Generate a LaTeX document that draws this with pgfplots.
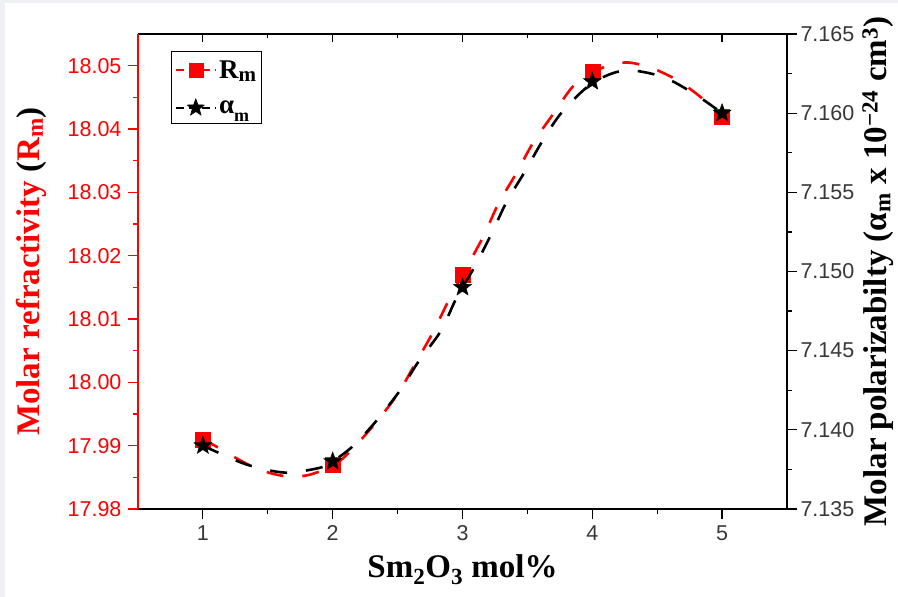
\documentclass[border=0pt]{standalone}
\usepackage{fontspec}
\setmainfont{Liberation Sans}
\newfontfamily\tnr{Liberation Serif}
\usepackage{pgfplots}
\pgfplotsset{compat=1.18}
\definecolor{tickgray}{HTML}{383838}
\definecolor{bggray}{HTML}{EEF0F3}

\pgfdeclareplotmark{fstar}{%
 \pgfpathmoveto{\pgfpointpolar{90}{\pgfplotmarksize}}%
 \pgfpathlineto{\pgfpointpolar{126}{0.42\pgfplotmarksize}}%
 \pgfpathlineto{\pgfpointpolar{162}{\pgfplotmarksize}}%
 \pgfpathlineto{\pgfpointpolar{198}{0.42\pgfplotmarksize}}%
 \pgfpathlineto{\pgfpointpolar{234}{\pgfplotmarksize}}%
 \pgfpathlineto{\pgfpointpolar{270}{0.42\pgfplotmarksize}}%
 \pgfpathlineto{\pgfpointpolar{306}{\pgfplotmarksize}}%
 \pgfpathlineto{\pgfpointpolar{342}{0.42\pgfplotmarksize}}%
 \pgfpathlineto{\pgfpointpolar{18}{\pgfplotmarksize}}%
 \pgfpathlineto{\pgfpointpolar{54}{0.42\pgfplotmarksize}}%
 \pgfpathclose
 \pgfusepathqfillstroke
}

\pgfplotsset{
  common/.style={
    scale only axis, width=649pt, height=475pt,
    xmin=0.5, xmax=5.5,
    tick align=outside,
    major tick length=10pt, minor tick length=5pt,
    /pgf/number format/assume math mode=true,
    ticklabel style={font=\fontsize{21.5}{25}\selectfont},
  }
}

\begin{document}
\begin{tikzpicture}[x=1pt,y=1pt]
\fill[bggray] (-138,-88) rectangle (760,509);
\fill[white] (-133,-88) rectangle (760,506);
\path[use as bounding box] (-138,-88) rectangle (760,509);

% top ticks
\begin{axis}[common,
  ymin=0, ymax=1,
  axis x line*=top, axis y line=none,
  xtick={1,2,3,4,5}, minor x tick num=1,
  xtick pos=right, ytick=\empty,
  tick align=inside,
  major tick length=8pt, minor tick length=4pt,
  xticklabels={},
  x axis line style={black, line width=1.2pt, -},
  xtick style={black, line width=1.2pt},
]
\end{axis}

% left axis: Rm
\begin{axis}[common,
  ymin=17.98, ymax=18.055,
  axis x line*=bottom, axis y line*=left,
  xtick pos=left, ytick pos=left,
  xtick={1,2,3,4,5}, minor x tick num=1,
  ytick={17.98,17.99,18.00,18.01,18.02,18.03,18.04,18.05}, minor y tick num=1,
  x axis line style={black, line width=1.2pt, -},
  y axis line style={red, line width=1.2pt, -},
  xtick style={black, line width=1.2pt},
  ytick style={red, line width=1.2pt},
  xticklabel style={tickgray, yshift=-3pt},
  yticklabel style={red, xshift=-3pt, /pgf/number format/fixed, /pgf/number format/fixed zerofill, /pgf/number format/precision=2},
  xlabel={\tnr\bfseries Sm\textsubscript{2}O\textsubscript{3} mol\%},
  xlabel style={at={(axis description cs:0.5,-0.128)}, anchor=center, font=\fontsize{33}{38}\selectfont},
  ylabel={\tnr\bfseries\color{red}Molar refractivity {\color{black}(}R\textsubscript{m}{\color{black})}},
  ylabel style={at={(axis description cs:-0.1649,0.5)}, anchor=center, font=\fontsize{33}{38}\selectfont},
  legend style={at={(axis description cs:0.051,0.964)}, anchor=north west, draw=black, line width=0.9pt,
    font=\tnr\bfseries\fontsize{27}{29}\selectfont, row sep=17pt, inner xsep=3pt, inner ysep=7pt, cells={anchor=west}},
  legend image code/.code={\draw[#1, mark repeat=2, mark phase=2] plot coordinates {(0pt,0pt) (20pt,0pt) (40pt,0pt)};},
]
\addlegendimage{red, line width=2.5pt, dash pattern=on 8pt off 5pt, mark=square*, mark size=7pt, mark options={solid, line width=0.5pt}}
\addlegendentry{R\raisebox{-3pt}{\fontsize{21}{21}\selectfont m}}
\addlegendimage{black, line width=2.5pt, dash pattern=on 8pt off 5pt, mark=fstar, mark size=9pt, mark options={solid, line width=0.5pt}}
\addlegendentry{α\raisebox{-8pt}{\fontsize{18}{18}\selectfont m}}

\addplot[red, line width=2.6pt, dash pattern=on 17pt off 19pt, smooth, forget plot] coordinates {
 (1.00,17.9910) (1.10,17.9899) (1.26,17.9880) (1.40,17.9865) (1.55,17.9855)
 (1.68,17.9851) (1.82,17.9854) (2.00,17.9868) (2.13,17.9890) (2.335,17.9937)
 (2.505,17.9983) (2.634,18.0029) (2.77,18.0078) (2.89,18.0128) (3.00,18.0170)
 (3.16,18.0230) (3.274,18.0281) (3.42,18.0332) (3.543,18.0378) (3.70,18.0424)
 (3.85,18.0467) (4.00,18.0489) (4.15,18.0502) (4.28,18.0505) (4.42,18.0499)
 (4.51,18.0492) (4.68,18.0474) (4.88,18.0443) (5.00,18.0420)
};
\addplot[only marks, mark=square*, mark size=7.5pt, red, forget plot] coordinates {
 (1,17.991) (2,17.987) (3,18.017) (4,18.049) (5,18.042)
};
\end{axis}

% right axis: alpha_m
\begin{axis}[common,
  ymin=7.135, ymax=7.165,
  axis x line=none, axis y line*=right,
  xtick=\empty, ytick pos=right,
  ytick={7.135,7.140,7.145,7.150,7.155,7.160,7.165}, minor y tick num=1,
  y axis line style={black, line width=1.2pt, -},
  ytick style={black, line width=1.2pt},
  yticklabel style={tickgray, /pgf/number format/fixed, /pgf/number format/fixed zerofill, /pgf/number format/precision=3},
  ylabel={\tnr\bfseries Molar polarizabilty (α\textsubscript{m} x 10\textsuperscript{−24} cm\textsuperscript{3})},
  ylabel style={at={(axis description cs:1.1402,0.5)}, anchor=center, font=\fontsize{33}{38}\selectfont},
]
\addplot[black, line width=2.6pt, dash pattern=on 17pt off 19pt, smooth] coordinates {
 (1.00,7.1390) (1.08,7.1387) (1.34,7.1378) (1.63,7.1373) (1.90,7.1376)
 (2.00,7.1380) (2.16,7.1390) (2.34,7.1406) (2.52,7.1425) (2.66,7.1443)
 (2.83,7.1462) (2.94,7.1481) (3.00,7.1490) (3.10,7.1504) (3.23,7.1525)
 (3.34,7.1544) (3.48,7.1563) (3.62,7.1583) (3.77,7.1601) (4.00,7.1619)
 (4.25,7.1627) (4.54,7.1623) (4.79,7.1612) (5.00,7.1600)
};
\addplot[only marks, mark=fstar, mark size=9.5pt, black] coordinates {
 (1,7.139) (2,7.138) (3,7.149) (4,7.162) (5,7.160)
};
\end{axis}
\end{tikzpicture}
\end{document}
